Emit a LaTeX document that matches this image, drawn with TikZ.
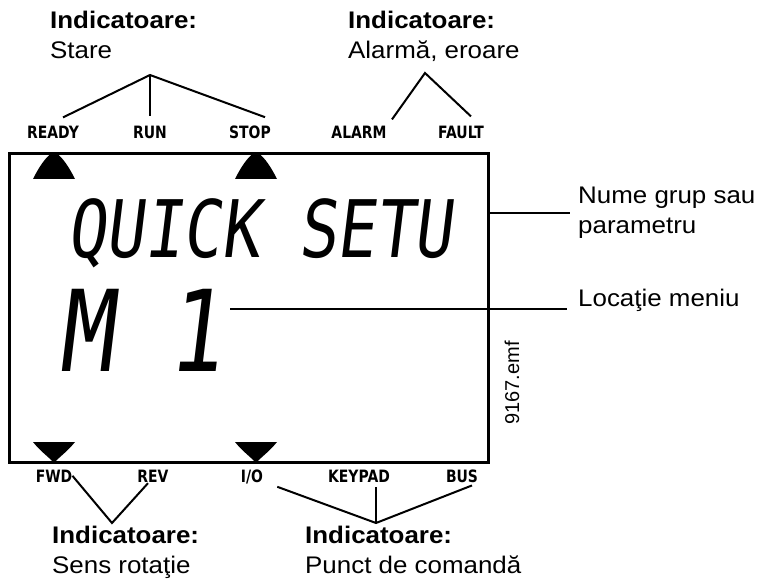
\documentclass[tikz,border=0pt]{standalone}
\usepackage{graphicx}
\usepackage{fontspec}
\setmainfont{Liberation Sans}
\newfontfamily\calloutfont{Liberation Sans}[FakeStretch=1.08]
\newfontfamily\lampfont{DejaVu Sans}[FakeStretch=0.82]
\newfontfamily\lcdfont{DejaVu Sans Mono}[FakeSlant=0.15]
\tikzset{
  callout/.style={font={\calloutfont\fontsize{24}{30}\selectfont},align=left,inner sep=0pt,anchor=north west},
  lamp/.style={font={\lampfont\bfseries\fontsize{17}{17}\selectfont},inner sep=0pt,anchor=base},
  segtext/.style={inner sep=0pt,anchor=base west},
  lead/.style={line width=2pt}
}
\begin{document}
\begin{tikzpicture}[x=1pt,y=-1pt]
\useasboundingbox (0,0) rectangle (761,588);
% display frame
\node[draw,line width=3pt,minimum width=479pt,minimum height=309pt,inner sep=0pt] (lcd) at (249,308) {};
% lamp labels above and below the frame
\foreach \name/\x/\txt in {ready/53/READY,run/150/RUN,stop/250/STOP,alarm/359/ALARM,fault/461/FAULT}
  \node[lamp] (\name) at (\x,139) {\txt};
\foreach \name/\x/\txt in {fwd/54/FWD,rev/153/REV,io/252/{I/O},keypad/359/KEYPAD,bus/462/BUS}
  \node[lamp] (\name) at (\x,482) {\txt};
% lamp marks
\foreach \x in {54,256}{
  \fill ({\x-21},179) .. controls ({\x-13},163) and ({\x-5},153) .. (\x,153) .. controls ({\x+5},153) and ({\x+13},163) .. ({\x+21},179) -- cycle;
  \fill ({\x-21},442) -- ({\x+21},442) .. controls ({\x+13},452) and ({\x+4},458) .. (\x,463) .. controls ({\x-4},458) and ({\x-13},452) .. ({\x-21},442) -- cycle;
}
% segment text
\node[segtext,font={\lcdfont\fontsize{64}{64}\selectfont}] (grp) at (67,258) {\scalebox{1}[1.24]{QUICK SETU}};
\node[segtext,font={\lcdfont\fontsize{91}{91}\selectfont}] (menu) at (58,371) {\scalebox{1}[1.24]{M 1}};
% callouts
\node[callout] (stare) at (50,11) {\textbf{Indicatoare:}\\Stare};
\node[callout] (alarme) at (348,11) {\textbf{Indicatoare:}\\Alarmă, eroare};
\node[callout] (sens) at (52,526) {\textbf{Indicatoare:}\\Sens rotaţie};
\node[callout] (punct) at (305,526) {\textbf{Indicatoare:}\\Punct de comandă};
\node[callout,anchor=west] (grup) at (578,213) {Nume grup sau\\parametru};
\node[callout,anchor=base west] (loc) at (578,307) {Locaţie meniu};
\node[rotate=90,font={\fontsize{20}{20}\selectfont},inner sep=0pt] (emf) at (512,383) {9167.emf};
% leader lines
\coordinate (stareTop) at (150,75);
\coordinate (alarmTop) at (425,73);
\coordinate (sensTop) at (112,523);
\coordinate (punctTop) at (376,523);
\coordinate (menuEnd) at (230,309);
\draw[lead] ([xshift=10pt,yshift=9pt]ready.north) -- (stareTop) -- ([xshift=15pt,yshift=9pt]stop.north);
\draw[lead] (stareTop) -- ([yshift=10pt]run.north);
\draw[lead] ([xshift=33pt,yshift=7pt]alarm.north) -- (alarmTop) -- ([xshift=10pt,yshift=10pt]fault.north);
\draw[lead] (fwd.east) -- (sensTop) -- ([xshift=-5pt,yshift=-1pt]rev.south);
\draw[lead] ([xshift=14pt,yshift=-3pt]io.south east) -- (punctTop) -- ([xshift=10pt,yshift=-3pt]bus.south);
\draw[lead] ([xshift=17pt,yshift=-5pt]keypad.south) -- (punctTop);
\draw[lead,shorten >=8pt] (lcd.east |- grup.west) -- (grup.west);
\draw[lead,shorten >=11pt] (menuEnd) -- (menuEnd -| loc.west);
\end{tikzpicture}
\end{document}
